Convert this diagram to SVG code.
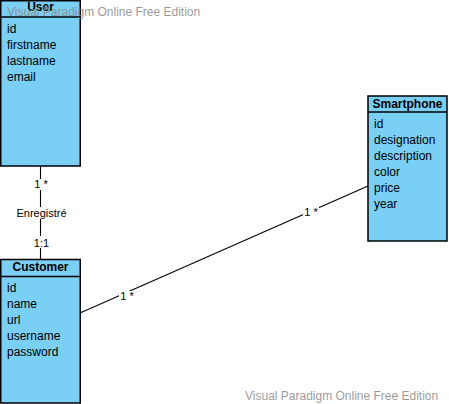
<svg xmlns="http://www.w3.org/2000/svg" width="449" height="404" viewBox="0 0 449 404">
  <style>
    .box { fill: #7ACFF5; stroke: #000; stroke-width: 1.5; }
    .sep { stroke: #000; stroke-width: 1.5; }
    .title { font-family: "Liberation Sans", Arial, sans-serif; font-size: 12px; font-weight: bold; fill: #000; text-anchor: middle; }
    .attr { font-family: "Liberation Sans", Arial, sans-serif; font-size: 12px; fill: #000; }
    .conn { stroke: #000; stroke-width: 1.1; fill: none; }
    .lbl { font-family: "Liberation Sans", Arial, sans-serif; font-size: 11px; fill: #000; text-anchor: middle; }
    .lblbg { fill: #fff; }
    .wm { font-family: "Liberation Sans", Arial, sans-serif; font-size: 12px; fill: #888888; fill-opacity: 0.85; }
  </style>
  <rect width="449" height="404" fill="#fff"/>

  <g id="connectors">
    <line class="conn" x1="40.5" y1="166" x2="40.5" y2="259"/>
    <line class="conn" x1="80" y1="313" x2="368" y2="186"/>
    <rect class="lblbg" x="33" y="179" width="16" height="11"/>
    <text class="lbl" x="41" y="188">1 *</text>
    <rect class="lblbg" x="16" y="207" width="51" height="12"/>
    <text class="lbl" x="41.5" y="217">Enregistré</text>
    <rect class="lblbg" x="33" y="236" width="17" height="12"/>
    <text class="lbl" x="41.5" y="247">1:1</text>
    <rect class="lblbg" x="119" y="291" width="16" height="11"/>
    <text class="lbl" x="127" y="300">1 *</text>
    <rect class="lblbg" x="303" y="207" width="16" height="11"/>
    <text class="lbl" x="311" y="216">1 *</text>
  </g>

  <g id="User">
    <rect class="box" x="0.75" y="0.75" width="79.5" height="165.25"/>
    <line class="sep" x1="0.75" y1="17" x2="80.25" y2="17"/>
    <text class="title" x="40.5" y="11">User</text>
    <text class="attr" x="7" y="33">id</text>
    <text class="attr" x="7" y="49">firstname</text>
    <text class="attr" x="7" y="65">lastname</text>
    <text class="attr" x="7" y="81">email</text>
  </g>

  <g id="Customer">
    <rect class="box" x="0.75" y="259.5" width="79.5" height="143.5"/>
    <line class="sep" x1="0.75" y1="276.5" x2="80.25" y2="276.5"/>
    <text class="title" x="40.5" y="271">Customer</text>
    <text class="attr" x="7" y="292">id</text>
    <text class="attr" x="7" y="308">name</text>
    <text class="attr" x="7" y="324">url</text>
    <text class="attr" x="7" y="340">username</text>
    <text class="attr" x="7" y="356">password</text>
  </g>

  <g id="Smartphone">
    <rect class="box" x="368" y="96" width="79" height="145"/>
    <line class="sep" x1="368" y1="112" x2="447" y2="112"/>
    <text class="title" x="407.5" y="108">Smartphone</text>
    <text class="attr" x="374" y="128">id</text>
    <text class="attr" x="374" y="144">designation</text>
    <text class="attr" x="374" y="160">description</text>
    <text class="attr" x="374" y="176">color</text>
    <text class="attr" x="374" y="192">price</text>
    <text class="attr" x="374" y="208">year</text>
  </g>

  <g id="watermarks">
    <text class="wm" x="7" y="16">Visual Paradigm Online Free Edition</text>
    <text class="wm" x="245" y="400">Visual Paradigm Online Free Edition</text>
  </g>
</svg>
